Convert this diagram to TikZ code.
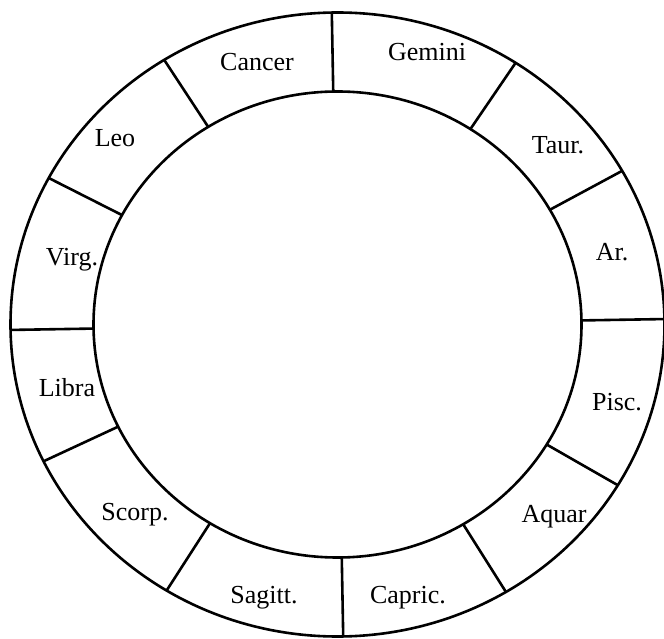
\documentclass[tikz,border=0pt]{standalone}
\usepackage{fontspec}
\setmainfont{Liberation Serif}
\begin{document}
\begin{tikzpicture}[x=1pt,y=1pt,
  ring/.style={line width=2.6pt},
  divider/.style={line width=2.6pt},
  lab/.style={font=\fontsize{26}{30}\selectfont, inner sep=0pt}]
\useasboundingbox (0,0) rectangle (664,638);
\coordinate (c) at (337.5,313.5);
\draw[ring] (c) ellipse [x radius=327, y radius=312];
\draw[ring] (c) ellipse [x radius=244, y radius=233];
\foreach \a [count=\i] in {1,29.5,57,91,122,152,181,206,238.5,271,301,329} {
  \coordinate (i\i) at ([shift={(c)}]\a:244 and 233);
  \coordinate (o\i) at ([shift={(c)}]\a:327 and 312);
  \draw[divider] (i\i) -- (o\i);
}
\node[lab] (cancer) at (257,576) {Cancer};
\node[lab] (gemini) at (427,586) {Gemini};
\node[lab] (taur) at (558,493) {Taur.};
\node[lab] (ar) at (612,386) {Ar.};
\node[lab] (pisc) at (617,236) {Pisc.};
\node[lab] (aquar) at (554,121) {Aquar};
\node[lab] (capric) at (408,40) {Capric.};
\node[lab] (sagitt) at (264,40) {Sagitt.};
\node[lab] (scorp) at (135,123) {Scorp.};
\node[lab] (libra) at (67,250) {Libra};
\node[lab] (virg) at (72,378) {Virg.};
\node[lab] (leo) at (115,500) {Leo};
\end{tikzpicture}
\end{document}
